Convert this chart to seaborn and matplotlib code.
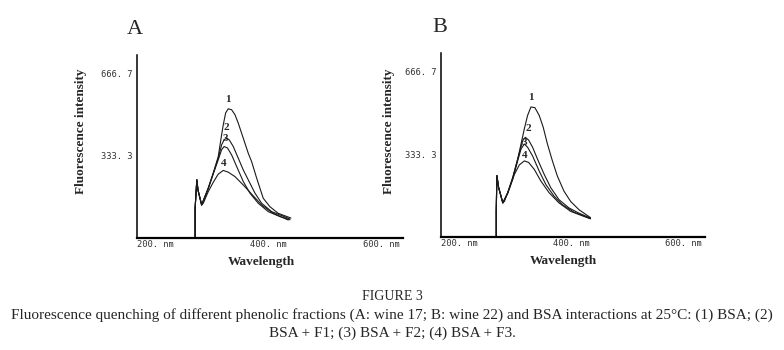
import numpy as np
import pandas as pd
import seaborn as sns
import matplotlib.pyplot as plt

# shared start of every spectrum (scatter spike + dip), per panel
start_a_nm = [303, 303, 306, 308, 314.5]
start_a_int = [0, 120, 234, 193, 132]
start_b_nm = [298.6, 298.6, 299.7, 302.7, 310.3]
start_b_int = [0, 105, 247, 200, 137]

# panel A: wine 17
a1_nm = [326.2, 335.1, 343.9, 349.9, 352.8, 357.0, 361.6, 367.6, 373.5, 379.3,
         388.2, 397.0, 403.0, 411.9, 423.6, 435.4, 450.1, 472.6]
a1_int = [200, 261, 328, 417, 457, 505, 522, 518, 498, 464,
          403, 342, 308, 241, 159, 125, 98, 79]
a2_nm = [326.2, 335.1, 343.9, 349.9, 354.3, 358.7, 363.4, 370.5, 379.3, 388.2,
         397.0, 408.9, 420.7, 438.4, 456.1, 470.8]
a2_int = [200, 261, 322, 376, 396, 403, 396, 369, 322, 274,
          234, 180, 139, 105, 89, 75]
a3_nm = [326.2, 335.1, 343.9, 349.9, 354.3, 360.3, 367.6, 376.5, 388.2, 400.0,
         414.7, 432.4, 453.1, 470.8]
a3_int = [198, 258, 315, 356, 369, 363, 335, 288, 227, 180,
          139, 105, 85, 72]
a4_nm = [317.4, 326.2, 335.1, 343.9, 352.8, 361.6, 373.5, 388.2, 403.0, 420.7,
         441.2, 467.8]
a4_int = [139, 186, 224, 257, 272, 265, 247, 213, 176, 132,
          98, 71]

# panel B: wine 22
b1_nm = [319.1, 328.0, 336.8, 342.8, 348.7, 354.5, 360.5, 367.6, 375.2, 382.3,
         389.9, 398.8, 407.6, 419.5, 431.3, 446.0, 466.7]
b1_int = [178, 239, 313, 374, 435, 489, 523, 520, 489, 442,
          374, 306, 245, 184, 143, 110, 78]
b2_nm = [319.1, 328.0, 336.8, 342.8, 345.7, 350.5, 356.3, 363.4, 372.2, 384.1,
         395.9, 410.6, 428.3, 446.0, 466.7]
b2_int = [178, 239, 313, 362, 387, 401, 390, 361, 313, 252,
          198, 150, 117, 96, 76]
b3_nm = [319.1, 328.0, 336.8, 342.8, 348.7, 354.5, 363.4, 375.2, 387.1, 401.8,
         416.5, 437.2, 466.7]
b3_int = [175, 232, 306, 354, 374, 361, 326, 265, 211, 164,
          130, 100, 74]
b4_nm = [313.3, 322.1, 331.0, 339.8, 348.7, 356.3, 366.4, 378.2, 392.9, 410.6,
         431.3, 466.7]
b4_int = [144, 198, 252, 290, 306, 300, 272, 225, 178, 137,
          103, 73]

curve_names = ["1", "2", "3", "4"]
x_ticks = [200, 400, 600]
x_tick_labels = ["200. nm", "400. nm", "600. nm"]
y_ticks = [333.3, 666.7]
y_tick_labels = ["333. 3", "666. 7"]


def build_df(start_nm, start_int, curves):
    rows = []
    for name, (nm, inten) in zip(curve_names, curves):
        for w, v in zip(start_nm + nm, start_int + inten):
            rows.append({"curve": name, "wavelength": w, "intensity": v})
    return pd.DataFrame(rows)


df_a = build_df(start_a_nm, start_a_int,
                [(a1_nm, a1_int), (a2_nm, a2_int), (a3_nm, a3_int), (a4_nm, a4_int)])
df_b = build_df(start_b_nm, start_b_int,
                [(b1_nm, b1_int), (b2_nm, b2_int), (b3_nm, b3_int), (b4_nm, b4_int)])

sns.set_style("white")
plt.rcParams["font.family"] = ["DejaVu Sans"]

fig = plt.figure(figsize=(7.84, 3.5), dpi=100)
ax_a = fig.add_axes([0.1747, 0.3214, 0.3393, 0.5214])
ax_b = fig.add_axes([0.5625, 0.3229, 0.3367, 0.5257])

serif = "Liberation Serif"
mono = "DejaVu Sans Mono"

for ax, df, lab_pos in [
    (ax_a, df_a, [(361.6, 559), (358.8, 446), (355.8, 403), (352.8, 302)]),
    (ax_b, df_b, [(360.5, 562), (356.3, 435), (348.7, 381), (348.7, 326)]),
]:
    sns.lineplot(data=df, x="wavelength", y="intensity", units="curve",
                 estimator=None, sort=False, color="#1a1a1a", linewidth=0.8, ax=ax)
    ax.set_xlim(200, 671)
    ax.set_ylim(0, 740)
    sns.despine(ax=ax)
    ax.spines["left"].set_linewidth(1.1)
    ax.spines["bottom"].set_linewidth(1.6)
    ax.spines["left"].set_color("black")
    ax.spines["bottom"].set_color("black")
    ax.set_xticks(x_ticks)
    ax.set_xticklabels(x_tick_labels, ha="left", family=mono, fontsize=6.3, color="#333333")
    ax.set_yticks(y_ticks)
    ax.set_yticklabels(y_tick_labels, family=mono, fontsize=6.3, color="#333333")
    ax.tick_params(axis="x", length=0, pad=1.5)
    ax.tick_params(axis="y", length=0, pad=3)
    ax.set_xlabel("Wavelength", family=serif, fontweight="bold", fontsize=9.5)
    ax.set_ylabel("Fluorescence intensity", family=serif, fontweight="bold", fontsize=9.5)
    for name, (x, y) in zip(curve_names, lab_pos):
        ax.text(x, y, name, family=serif, fontweight="bold", fontsize=8,
                ha="center", va="center")

ax_a.xaxis.set_label_coords(0.466, -0.10)
ax_b.xaxis.set_label_coords(0.464, -0.10)
ax_a.yaxis.set_label_coords(-0.189, 0.584)
ax_b.yaxis.set_label_coords(-0.174, 0.573)

fig.text(135 / 784, 1 - 30 / 350, "A", family=serif, fontsize=16, ha="center", va="center")
fig.text(440 / 784, 1 - 27 / 350, "B", family=serif, fontsize=16, ha="center", va="center")

fig.text(0.5, 1 - 297 / 350, "FIGURE 3", family=serif, fontsize=10, ha="center", va="center")
fig.text(0.5, 1 - 315 / 350,
         "Fluorescence quenching of different phenolic fractions (A: wine 17; B: wine 22) "
         "and BSA interactions at 25°C: (1) BSA; (2)",
         family=serif, fontsize=11, ha="center", va="center")
fig.text(0.5, 1 - 333 / 350, "BSA + F1; (3) BSA + F2; (4) BSA + F3.",
         family=serif, fontsize=11, ha="center", va="center")

plt.savefig("out.png", dpi=100)
